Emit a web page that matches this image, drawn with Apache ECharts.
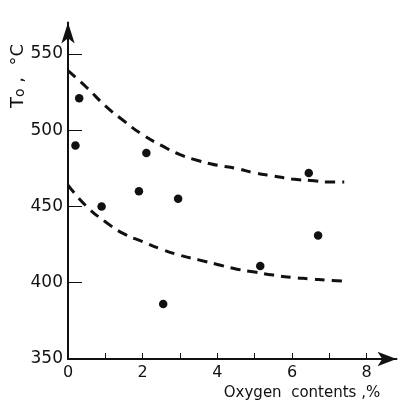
<!DOCTYPE html>
<html>
<head>
<meta charset="utf-8">
<script src="https://cdn.jsdelivr.net/npm/echarts@6/dist/echarts.min.js"></script>
<style>
  html, body { margin: 0; padding: 0; background: #fff; }
  #chart { width: 406px; height: 404px; }
</style>
</head>
<body>
<div id="chart"></div>
<script>
// measured points (oxygen %, T0 in C)
const pointsX = [0.2, 0.3, 0.9, 1.9, 2.1, 2.55, 2.95, 5.15, 6.45, 6.7];
const pointsY = [490, 521, 450, 460, 485, 386, 455, 411, 472, 431];

// dashed envelope curves
const curveX = [0, 0.5, 1, 1.5, 2, 2.5, 3, 3.5, 4, 4.5, 5, 5.5, 6, 6.5, 7, 7.4];
const upperY = [539, 528, 516, 506, 497, 490, 484, 480, 477, 475, 472, 470, 468, 467, 466, 466];
const lowerY = [464, 450, 440, 432, 427, 422, 418, 415, 412, 409, 407, 405, 403.5, 402.5, 401.5, 401];

const xTicks = [0, 1, 2, 3, 4, 5, 6, 7, 8];
const xLabels = [0, 2, 4, 6, 8];
const yTicks = [350, 400, 450, 500, 550];

const ink = '#111';
const font = 'DejaVu Sans';

var chartDom = document.getElementById('chart');
var myChart = echarts.init(chartDom);

const zip = (xs, ys) => xs.map((x, i) => [x, ys[i]]);

const dashed = {
  type: 'line',
  smooth: true,
  symbol: 'none',
  lineStyle: { color: ink, width: 3, type: [10, 7] },
  z: 2
};

var option = {
  animation: false,
  grid: { left: 68, right: 9.5, top: 22.5, bottom: 45 },
  xAxis: {
    type: 'value',
    min: 0,
    max: 8.8,
    splitLine: { show: false },
    axisLine: {
      onZero: false,
      lineStyle: { color: ink, width: 2 },
      symbol: ['none', 'arrow'],
      symbolSize: [11, 19]
    },
    axisTick: { inside: true, length: 6, customValues: xTicks, lineStyle: { color: ink, width: 1 } },
    axisLabel: {
      customValues: xLabels,
      margin: 6,
      color: ink,
      fontFamily: font,
      fontSize: 16
    }
  },
  yAxis: {
    type: 'value',
    min: 350,
    max: 570.6,
    splitLine: { show: false },
    axisLine: {
      onZero: false,
      lineStyle: { color: ink, width: 2 },
      symbol: ['none', 'arrow'],
      symbolSize: [10, 21]
    },
    axisTick: { inside: true, length: 14, customValues: yTicks, lineStyle: { color: ink, width: 1 } },
    axisLabel: {
      customValues: yTicks,
      margin: 5,
      color: ink,
      fontFamily: font,
      fontSize: 17
    }
  },
  graphic: [
    {
      type: 'text',
      x: 18,
      y: 76,
      rotation: Math.PI / 2,
      style: {
        text: 'T{s|o} ,  °C',
        fill: ink,
        font: '18px "DejaVu Sans"',
        align: 'center',
        verticalAlign: 'middle',
        rich: { s: { fontSize: 14, fontFamily: font, verticalAlign: 'bottom', fill: ink } }
      }
    },
    {
      type: 'text',
      x: 302,
      y: 393,
      style: {
        text: 'Oxygen  contents ,%',
        fill: ink,
        font: '15px "DejaVu Sans"',
        align: 'center',
        verticalAlign: 'middle'
      }
    }
  ],
  series: [
    Object.assign({ data: zip(curveX, upperY) }, dashed),
    Object.assign({ data: zip(curveX, lowerY) }, dashed),
    {
      type: 'scatter',
      data: zip(pointsX, pointsY),
      symbol: 'circle',
      symbolSize: 8.5,
      itemStyle: { color: ink, opacity: 1 },
      z: 3
    }
  ]
};

myChart.setOption(option);
</script>
</body>
</html>
